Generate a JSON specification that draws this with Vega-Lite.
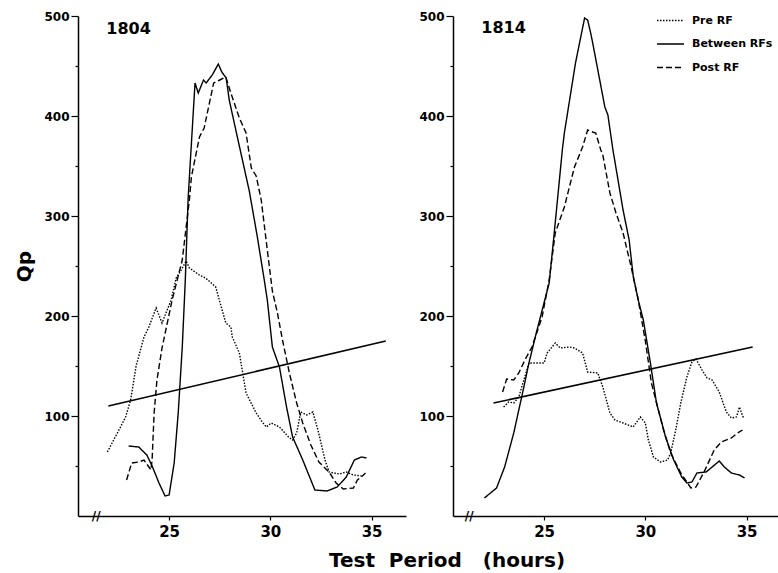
{
  "$schema": "https://vega.github.io/schema/vega-lite/v6.json",
  "background": "white",
  "padding": {"left": 14, "top": 6, "right": 0, "bottom": 0},
  "spacing": 12,
  "title": {"text": "Test\u00a0\u00a0Period\u00a0\u00a0\u00a0(hours)", "orient": "bottom", "anchor": "middle", "font": "DejaVu Sans", "fontSize": 20, "fontWeight": "bold", "color": "black", "dx": 49, "offset": 12},
  "config": {
    "font": "DejaVu Sans",
    "view": {"stroke": null},
    "axis": {"domainColor": "black", "tickColor": "black", "labelColor": "black", "titleColor": "black", "grid": false, "labelFont": "DejaVu Sans", "titleFont": "DejaVu Sans", "labelFontWeight": "bold", "titleFontWeight": "bold", "domainWidth": 1.5, "tickWidth": 1.2}
  },
  "datasets": {
    "qp": [
      {"p":"1804","s":"Pre RF","h":21.95,"q":64},{"p":"1804","s":"Pre RF","h":22.6,"q":89},{"p":"1804","s":"Pre RF","h":22.85,"q":99},{"p":"1804","s":"Pre RF","h":23.1,"q":116},{"p":"1804","s":"Pre RF","h":23.37,"q":150},{"p":"1804","s":"Pre RF","h":23.76,"q":179},{"p":"1804","s":"Pre RF","h":24.0,"q":189},{"p":"1804","s":"Pre RF","h":24.36,"q":208},{"p":"1804","s":"Pre RF","h":24.65,"q":193},{"p":"1804","s":"Pre RF","h":25.1,"q":216},{"p":"1804","s":"Pre RF","h":25.35,"q":238},{"p":"1804","s":"Pre RF","h":25.6,"q":246},{"p":"1804","s":"Pre RF","h":25.84,"q":255},{"p":"1804","s":"Pre RF","h":26.0,"q":248},{"p":"1804","s":"Pre RF","h":26.49,"q":241},{"p":"1804","s":"Pre RF","h":26.8,"q":238},{"p":"1804","s":"Pre RF","h":27.3,"q":229},{"p":"1804","s":"Pre RF","h":27.8,"q":193},{"p":"1804","s":"Pre RF","h":28.05,"q":189},{"p":"1804","s":"Pre RF","h":28.12,"q":179},{"p":"1804","s":"Pre RF","h":28.47,"q":163},{"p":"1804","s":"Pre RF","h":28.8,"q":123},{"p":"1804","s":"Pre RF","h":29.3,"q":103},{"p":"1804","s":"Pre RF","h":29.6,"q":94},{"p":"1804","s":"Pre RF","h":29.8,"q":89},{"p":"1804","s":"Pre RF","h":30.05,"q":93},{"p":"1804","s":"Pre RF","h":30.45,"q":89},{"p":"1804","s":"Pre RF","h":30.9,"q":79},{"p":"1804","s":"Pre RF","h":31.1,"q":76},{"p":"1804","s":"Pre RF","h":31.3,"q":83},{"p":"1804","s":"Pre RF","h":31.5,"q":104},{"p":"1804","s":"Pre RF","h":31.8,"q":101},{"p":"1804","s":"Pre RF","h":32.1,"q":104},{"p":"1804","s":"Pre RF","h":32.35,"q":86},{"p":"1804","s":"Pre RF","h":32.7,"q":56},{"p":"1804","s":"Pre RF","h":32.9,"q":44},{"p":"1804","s":"Pre RF","h":33.4,"q":42},{"p":"1804","s":"Pre RF","h":33.75,"q":44},{"p":"1804","s":"Pre RF","h":34.1,"q":41},{"p":"1804","s":"Pre RF","h":34.5,"q":40},
      {"p":"1804","s":"Between RFs","h":23.0,"q":70},{"p":"1804","s":"Between RFs","h":23.5,"q":69},{"p":"1804","s":"Between RFs","h":23.9,"q":61},{"p":"1804","s":"Between RFs","h":24.16,"q":50},{"p":"1804","s":"Between RFs","h":24.5,"q":33},{"p":"1804","s":"Between RFs","h":24.8,"q":20},{"p":"1804","s":"Between RFs","h":25.0,"q":21},{"p":"1804","s":"Between RFs","h":25.25,"q":53},{"p":"1804","s":"Between RFs","h":25.45,"q":103},{"p":"1804","s":"Between RFs","h":25.65,"q":169},{"p":"1804","s":"Between RFs","h":25.8,"q":236},{"p":"1804","s":"Between RFs","h":25.94,"q":318},{"p":"1804","s":"Between RFs","h":26.28,"q":433},{"p":"1804","s":"Between RFs","h":26.44,"q":423},{"p":"1804","s":"Between RFs","h":26.7,"q":436},{"p":"1804","s":"Between RFs","h":26.83,"q":433},{"p":"1804","s":"Between RFs","h":27.13,"q":441},{"p":"1804","s":"Between RFs","h":27.43,"q":452},{"p":"1804","s":"Between RFs","h":27.6,"q":444},{"p":"1804","s":"Between RFs","h":27.82,"q":438},{"p":"1804","s":"Between RFs","h":27.97,"q":416},{"p":"1804","s":"Between RFs","h":28.37,"q":379},{"p":"1804","s":"Between RFs","h":28.96,"q":325},{"p":"1804","s":"Between RFs","h":29.35,"q":280},{"p":"1804","s":"Between RFs","h":29.7,"q":236},{"p":"1804","s":"Between RFs","h":29.85,"q":216},{"p":"1804","s":"Between RFs","h":30.1,"q":169},{"p":"1804","s":"Between RFs","h":30.45,"q":149},{"p":"1804","s":"Between RFs","h":30.8,"q":109},{"p":"1804","s":"Between RFs","h":31.1,"q":79},{"p":"1804","s":"Between RFs","h":31.6,"q":56},{"p":"1804","s":"Between RFs","h":32.2,"q":26},{"p":"1804","s":"Between RFs","h":32.8,"q":25},{"p":"1804","s":"Between RFs","h":33.3,"q":29},{"p":"1804","s":"Between RFs","h":33.75,"q":39},{"p":"1804","s":"Between RFs","h":34.15,"q":56},{"p":"1804","s":"Between RFs","h":34.5,"q":59},{"p":"1804","s":"Between RFs","h":34.75,"q":58},
      {"p":"1804","s":"Post RF","h":22.9,"q":36},{"p":"1804","s":"Post RF","h":23.15,"q":53},{"p":"1804","s":"Post RF","h":23.5,"q":54},{"p":"1804","s":"Post RF","h":23.76,"q":56},{"p":"1804","s":"Post RF","h":24.0,"q":49},{"p":"1804","s":"Post RF","h":24.1,"q":46},{"p":"1804","s":"Post RF","h":24.16,"q":56},{"p":"1804","s":"Post RF","h":24.26,"q":103},{"p":"1804","s":"Post RF","h":24.4,"q":136},{"p":"1804","s":"Post RF","h":24.65,"q":168},{"p":"1804","s":"Post RF","h":25.15,"q":216},{"p":"1804","s":"Post RF","h":25.65,"q":256},{"p":"1804","s":"Post RF","h":26.0,"q":316},{"p":"1804","s":"Post RF","h":26.1,"q":339},{"p":"1804","s":"Post RF","h":26.5,"q":379},{"p":"1804","s":"Post RF","h":26.73,"q":388},{"p":"1804","s":"Post RF","h":27.2,"q":433},{"p":"1804","s":"Post RF","h":27.5,"q":436},{"p":"1804","s":"Post RF","h":27.8,"q":439},{"p":"1804","s":"Post RF","h":28.05,"q":423},{"p":"1804","s":"Post RF","h":28.47,"q":398},{"p":"1804","s":"Post RF","h":28.8,"q":383},{"p":"1804","s":"Post RF","h":29.06,"q":348},{"p":"1804","s":"Post RF","h":29.3,"q":340},{"p":"1804","s":"Post RF","h":29.55,"q":316},{"p":"1804","s":"Post RF","h":29.85,"q":266},{"p":"1804","s":"Post RF","h":30.1,"q":225},{"p":"1804","s":"Post RF","h":30.35,"q":203},{"p":"1804","s":"Post RF","h":30.6,"q":176},{"p":"1804","s":"Post RF","h":30.94,"q":143},{"p":"1804","s":"Post RF","h":31.3,"q":113},{"p":"1804","s":"Post RF","h":31.6,"q":93},{"p":"1804","s":"Post RF","h":32.0,"q":71},{"p":"1804","s":"Post RF","h":32.4,"q":54},{"p":"1804","s":"Post RF","h":32.9,"q":44},{"p":"1804","s":"Post RF","h":33.25,"q":33},{"p":"1804","s":"Post RF","h":33.6,"q":27},{"p":"1804","s":"Post RF","h":34.1,"q":28},{"p":"1804","s":"Post RF","h":34.3,"q":36},{"p":"1804","s":"Post RF","h":34.6,"q":41},{"p":"1804","s":"Post RF","h":34.7,"q":43},
      {"p":"1804","s":"Trend","h":22.0,"q":110},{"p":"1804","s":"Trend","h":35.7,"q":175},
      {"p":"1814","s":"Pre RF","h":23.0,"q":109},{"p":"1814","s":"Pre RF","h":23.25,"q":114},{"p":"1814","s":"Pre RF","h":23.5,"q":113},{"p":"1814","s":"Pre RF","h":23.75,"q":119},{"p":"1814","s":"Pre RF","h":24.0,"q":136},{"p":"1814","s":"Pre RF","h":24.25,"q":153},{"p":"1814","s":"Pre RF","h":24.65,"q":153},{"p":"1814","s":"Pre RF","h":25.0,"q":153},{"p":"1814","s":"Pre RF","h":25.15,"q":163},{"p":"1814","s":"Pre RF","h":25.55,"q":173},{"p":"1814","s":"Pre RF","h":25.8,"q":168},{"p":"1814","s":"Pre RF","h":26.25,"q":169},{"p":"1814","s":"Pre RF","h":26.5,"q":168},{"p":"1814","s":"Pre RF","h":26.9,"q":163},{"p":"1814","s":"Pre RF","h":27.15,"q":144},{"p":"1814","s":"Pre RF","h":27.65,"q":143},{"p":"1814","s":"Pre RF","h":27.9,"q":129},{"p":"1814","s":"Pre RF","h":28.25,"q":103},{"p":"1814","s":"Pre RF","h":28.5,"q":96},{"p":"1814","s":"Pre RF","h":28.9,"q":93},{"p":"1814","s":"Pre RF","h":29.4,"q":89},{"p":"1814","s":"Pre RF","h":29.75,"q":99},{"p":"1814","s":"Pre RF","h":30.0,"q":93},{"p":"1814","s":"Pre RF","h":30.15,"q":76},{"p":"1814","s":"Pre RF","h":30.4,"q":59},{"p":"1814","s":"Pre RF","h":30.75,"q":54},{"p":"1814","s":"Pre RF","h":31.1,"q":56},{"p":"1814","s":"Pre RF","h":31.25,"q":63},{"p":"1814","s":"Pre RF","h":31.5,"q":86},{"p":"1814","s":"Pre RF","h":31.75,"q":113},{"p":"1814","s":"Pre RF","h":32.05,"q":139},{"p":"1814","s":"Pre RF","h":32.3,"q":154},{"p":"1814","s":"Pre RF","h":32.5,"q":157},{"p":"1814","s":"Pre RF","h":32.8,"q":146},{"p":"1814","s":"Pre RF","h":33.05,"q":138},{"p":"1814","s":"Pre RF","h":33.3,"q":136},{"p":"1814","s":"Pre RF","h":33.65,"q":124},{"p":"1814","s":"Pre RF","h":34.0,"q":104},{"p":"1814","s":"Pre RF","h":34.25,"q":98},{"p":"1814","s":"Pre RF","h":34.5,"q":99},{"p":"1814","s":"Pre RF","h":34.65,"q":109},{"p":"1814","s":"Pre RF","h":34.75,"q":103},{"p":"1814","s":"Pre RF","h":34.85,"q":98},
      {"p":"1814","s":"Between RFs","h":22.05,"q":18},{"p":"1814","s":"Between RFs","h":22.65,"q":28},{"p":"1814","s":"Between RFs","h":23.05,"q":49},{"p":"1814","s":"Between RFs","h":23.5,"q":83},{"p":"1814","s":"Between RFs","h":23.75,"q":106},{"p":"1814","s":"Between RFs","h":24.0,"q":129},{"p":"1814","s":"Between RFs","h":24.25,"q":153},{"p":"1814","s":"Between RFs","h":24.65,"q":186},{"p":"1814","s":"Between RFs","h":25.25,"q":233},{"p":"1814","s":"Between RFs","h":25.5,"q":283},{"p":"1814","s":"Between RFs","h":25.9,"q":366},{"p":"1814","s":"Between RFs","h":26.0,"q":383},{"p":"1814","s":"Between RFs","h":26.55,"q":453},{"p":"1814","s":"Between RFs","h":27.0,"q":498},{"p":"1814","s":"Between RFs","h":27.15,"q":496},{"p":"1814","s":"Between RFs","h":27.3,"q":483},{"p":"1814","s":"Between RFs","h":27.4,"q":473},{"p":"1814","s":"Between RFs","h":28.0,"q":409},{"p":"1814","s":"Between RFs","h":28.15,"q":401},{"p":"1814","s":"Between RFs","h":28.4,"q":366},{"p":"1814","s":"Between RFs","h":28.9,"q":306},{"p":"1814","s":"Between RFs","h":29.2,"q":276},{"p":"1814","s":"Between RFs","h":29.4,"q":240},{"p":"1814","s":"Between RFs","h":29.65,"q":216},{"p":"1814","s":"Between RFs","h":29.9,"q":196},{"p":"1814","s":"Between RFs","h":30.25,"q":153},{"p":"1814","s":"Between RFs","h":30.55,"q":113},{"p":"1814","s":"Between RFs","h":31.0,"q":79},{"p":"1814","s":"Between RFs","h":31.4,"q":56},{"p":"1814","s":"Between RFs","h":31.8,"q":39},{"p":"1814","s":"Between RFs","h":32.05,"q":33},{"p":"1814","s":"Between RFs","h":32.3,"q":34},{"p":"1814","s":"Between RFs","h":32.55,"q":43},{"p":"1814","s":"Between RFs","h":33.0,"q":44},{"p":"1814","s":"Between RFs","h":33.3,"q":49},{"p":"1814","s":"Between RFs","h":33.65,"q":55},{"p":"1814","s":"Between RFs","h":33.9,"q":49},{"p":"1814","s":"Between RFs","h":34.25,"q":43},{"p":"1814","s":"Between RFs","h":34.65,"q":41},{"p":"1814","s":"Between RFs","h":34.9,"q":38},
      {"p":"1814","s":"Post RF","h":22.95,"q":124},{"p":"1814","s":"Post RF","h":23.15,"q":137},{"p":"1814","s":"Post RF","h":23.5,"q":136},{"p":"1814","s":"Post RF","h":23.75,"q":143},{"p":"1814","s":"Post RF","h":24.05,"q":156},{"p":"1814","s":"Post RF","h":24.4,"q":169},{"p":"1814","s":"Post RF","h":24.9,"q":199},{"p":"1814","s":"Post RF","h":25.25,"q":236},{"p":"1814","s":"Post RF","h":25.55,"q":283},{"p":"1814","s":"Post RF","h":26.0,"q":309},{"p":"1814","s":"Post RF","h":26.5,"q":349},{"p":"1814","s":"Post RF","h":26.9,"q":369},{"p":"1814","s":"Post RF","h":27.15,"q":386},{"p":"1814","s":"Post RF","h":27.4,"q":384},{"p":"1814","s":"Post RF","h":27.55,"q":383},{"p":"1814","s":"Post RF","h":27.8,"q":366},{"p":"1814","s":"Post RF","h":27.9,"q":361},{"p":"1814","s":"Post RF","h":28.25,"q":323},{"p":"1814","s":"Post RF","h":28.55,"q":303},{"p":"1814","s":"Post RF","h":28.9,"q":283},{"p":"1814","s":"Post RF","h":29.3,"q":249},{"p":"1814","s":"Post RF","h":29.65,"q":216},{"p":"1814","s":"Post RF","h":30.0,"q":175},{"p":"1814","s":"Post RF","h":30.3,"q":133},{"p":"1814","s":"Post RF","h":30.9,"q":86},{"p":"1814","s":"Post RF","h":31.25,"q":63},{"p":"1814","s":"Post RF","h":31.75,"q":43},{"p":"1814","s":"Post RF","h":32.25,"q":28},{"p":"1814","s":"Post RF","h":32.5,"q":29},{"p":"1814","s":"Post RF","h":32.9,"q":44},{"p":"1814","s":"Post RF","h":33.4,"q":66},{"p":"1814","s":"Post RF","h":33.75,"q":74},{"p":"1814","s":"Post RF","h":34.25,"q":78},{"p":"1814","s":"Post RF","h":34.55,"q":83},{"p":"1814","s":"Post RF","h":34.8,"q":86},
      {"p":"1814","s":"Trend","h":22.5,"q":113},{"p":"1814","s":"Trend","h":35.3,"q":169}
    ]
  },
  "resolve": {"scale": {"strokeDash": "independent"}, "legend": {"strokeDash": "independent"}},
  "hconcat": [
    {
      "width": 328, "height": 500,
      "layer": [
        {
          "data": {"name": "qp"},
          "transform": [{"filter": "datum.p === '1804' && datum.s !== 'Trend'"}],
          "mark": {"type": "line", "color": "black", "strokeWidth": 1.4},
          "encoding": {
            "x": {"field": "h", "type": "quantitative", "scale": {"domain": [20.5, 36.7], "nice": false, "zero": false}, "axis": {"title": null, "values": [25, 30, 35], "labelFontSize": 15, "tickSize": 4, "labelPadding": 4}},
            "y": {"field": "q", "type": "quantitative", "scale": {"domain": [0, 500], "nice": false}, "axis": {"title": "Qp", "titleFontSize": 20, "titlePadding": 9, "values": [50, 100, 150, 200, 250, 300, 350, 400, 450, 500], "labelExpr": "datum.value % 100 === 0 ? datum.label : ''", "labelFontSize": 12, "tickSize": {"condition": {"test": "datum.value % 100 === 0", "value": 7}, "value": 3}, "labelPadding": 2}},
            "strokeDash": {"field": "s", "type": "nominal", "scale": {"domain": ["Pre RF", "Between RFs", "Post RF"], "range": [[1.5, 1.5], [1, 0], [6, 3]]}, "legend": null}
          }
        },
        {
          "data": {"name": "qp"},
          "transform": [{"filter": "datum.p === '1804' && datum.s === 'Trend'"}],
          "mark": {"type": "line", "color": "black", "strokeWidth": 1.5},
          "encoding": {"x": {"field": "h", "type": "quantitative"}, "y": {"field": "q", "type": "quantitative"}}
        },
        {
          "data": {"values": [{}]},
          "mark": {"type": "text", "text": "1804", "align": "left", "baseline": "alphabetic", "fontSize": 16, "fontWeight": "bold", "font": "DejaVu Sans", "color": "black"},
          "encoding": {"x": {"datum": 21.9}, "y": {"datum": 482}}
        },
        {
          "data": {"values": [{}]},
          "mark": {"type": "text", "text": "//", "align": "center", "baseline": "middle", "fontSize": 12, "fontWeight": "bold", "color": "black"},
          "encoding": {"x": {"datum": 21.4}, "y": {"datum": 0}}
        }
      ]
    },
    {
      "width": 328, "height": 500,
      "layer": [
        {
          "data": {"name": "qp"},
          "transform": [{"filter": "datum.p === '1814' && datum.s !== 'Trend'"}],
          "mark": {"type": "line", "color": "black", "strokeWidth": 1.4},
          "encoding": {
            "x": {"field": "h", "type": "quantitative", "scale": {"domain": [20.5, 36.7], "nice": false, "zero": false}, "axis": {"title": null, "values": [25, 30, 35], "labelFontSize": 15, "tickSize": 4, "labelPadding": 4}},
            "y": {"field": "q", "type": "quantitative", "scale": {"domain": [0, 500], "nice": false}, "axis": {"title": null, "values": [50, 100, 150, 200, 250, 300, 350, 400, 450, 500], "labelExpr": "datum.value % 100 === 0 ? datum.label : ''", "labelFontSize": 12, "tickSize": {"condition": {"test": "datum.value % 100 === 0", "value": 7}, "value": 3}, "labelPadding": 2}},
            "strokeDash": {"field": "s", "type": "nominal", "scale": {"domain": ["Pre RF", "Between RFs", "Post RF"], "range": [[1.5, 1.5], [1, 0], [6, 3]]}, "legend": {"title": null, "orient": "none", "legendX": 203, "legendY": -10, "symbolType": "stroke", "symbolSize": 729, "symbolStrokeWidth": 1.4, "symbolStrokeColor": "black", "labelFont": "DejaVu Sans", "labelFontSize": 11, "labelFontWeight": "bold", "labelColor": "black", "labelOffset": 7, "rowPadding": 3.5}}
          }
        },
        {
          "data": {"name": "qp"},
          "transform": [{"filter": "datum.p === '1814' && datum.s === 'Trend'"}],
          "mark": {"type": "line", "color": "black", "strokeWidth": 1.5},
          "encoding": {"x": {"field": "h", "type": "quantitative"}, "y": {"field": "q", "type": "quantitative"}}
        },
        {
          "data": {"values": [{}]},
          "mark": {"type": "text", "text": "1814", "align": "left", "baseline": "alphabetic", "fontSize": 16, "fontWeight": "bold", "font": "DejaVu Sans", "color": "black"},
          "encoding": {"x": {"datum": 21.9}, "y": {"datum": 483}}
        },
        {
          "data": {"values": [{}]},
          "mark": {"type": "text", "text": "//", "align": "center", "baseline": "middle", "fontSize": 12, "fontWeight": "bold", "color": "black"},
          "encoding": {"x": {"datum": 21.3}, "y": {"datum": 0}}
        }
      ]
    }
  ]
}
